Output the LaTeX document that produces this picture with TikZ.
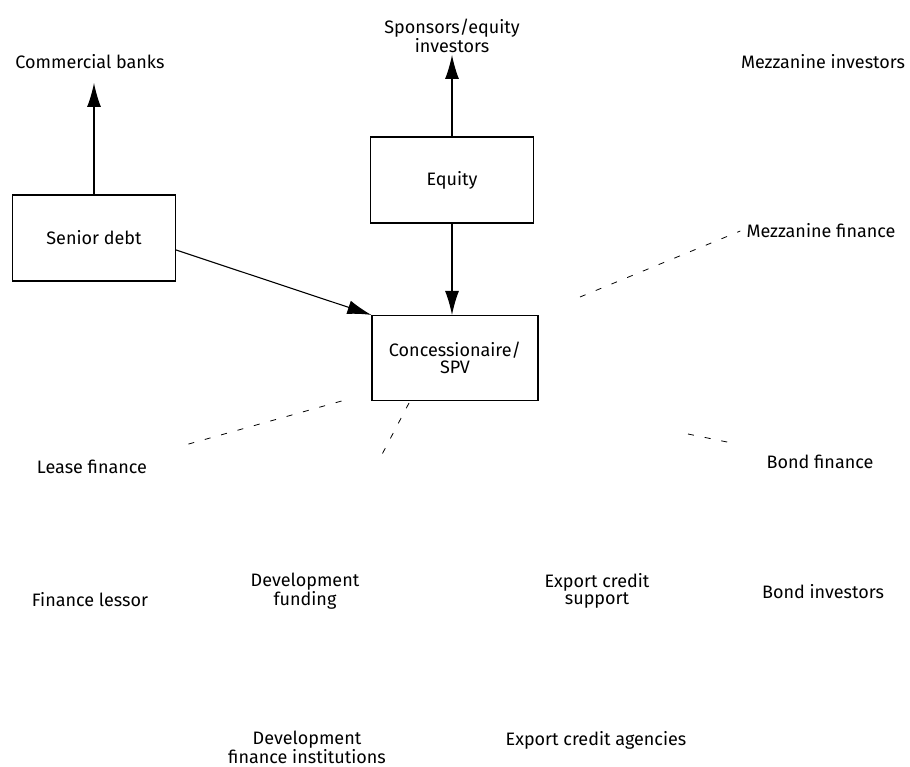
\documentclass[tikz,border=0pt]{standalone}
\usepackage{fontspec}
\setmainfont{Fira Sans}
\usetikzlibrary{arrows.meta}

\tikzset{
  finbox/.style={draw, line width=1.1pt, minimum width=163pt, minimum height=86pt, align=center},
  lbl/.style={align=center, inner sep=0pt},
  flow/.style={line width=1.1pt, -{Latex[length=24pt,width=14pt]}},
  faint/.style={line width=0.8pt, dash pattern=on 6pt off 11pt}
}

\begin{document}
\begin{tikzpicture}[x=1pt, y=-1pt, font=\fontsize{18}{17}\selectfont]
    \useasboundingbox (0,0) rectangle (910,767);

    %Boxes
    \node[finbox] (senior) at (94,238) {Senior debt};
    \node[finbox] (equity) at (452,180) {Equity};
    \node[finbox, minimum width=166pt, minimum height=85pt] (spv) at (455,358) {Concessionaire/\\SPV};

    %Labels
    \node[lbl] (banks) at (90,62) {Commercial banks};
    \node[lbl] (sponsors) at (452,36) {Sponsors/equity\\investors};
    \node[lbl] (mezzinv) at (823,62) {Mezzanine investors};
    \node[lbl] (mezzfin) at (821,231) {Mezzanine finance};
    \node[lbl] (lease) at (92,467) {Lease finance};
    \node[lbl] (bond) at (820,462) {Bond finance};
    \node[lbl] (lessor) at (90,600) {Finance lessor};
    \node[lbl] (devfund) at (305,591) {Development\\funding};
    \node[lbl] (ecsupport) at (597,591) {Export credit\\support};
    \node[lbl] (bondinv) at (823,592) {Bond investors};
    \node[lbl] (devinst) at (307,747) {Development\\finance institutions};
    \node[lbl] (ecagency) at (596,740) {Export credit agencies};

    %Arrows
    \draw[flow] (senior.north) -- (senior.north |- 0,83);
    \draw[flow] (equity.north) -- (equity.north |- 0,55);
    \draw[flow] (equity.south) -- (spv.north -| equity.south);
    \draw[flow] ([yshift=-12pt]senior.east) -- (spv.north west);

    %Faint links
    \coordinate (mezzend) at (580,297);
    \coordinate (leaseend) at (178,447);
    \coordinate (devstart) at (409,403);
    \coordinate (devend) at (378,462);
    \coordinate (bondstart) at (688,434);
    \coordinate (bondend) at (732,443);
    \draw[faint] (mezzend) -- ([xshift=-6pt]mezzfin.west);
    \draw[faint] ([xshift=-30pt]spv.south west) -- (leaseend);
    \draw[faint] (devstart) -- (devend);
    \draw[faint] (bondstart) -- (bondend);
\end{tikzpicture}
\end{document}
